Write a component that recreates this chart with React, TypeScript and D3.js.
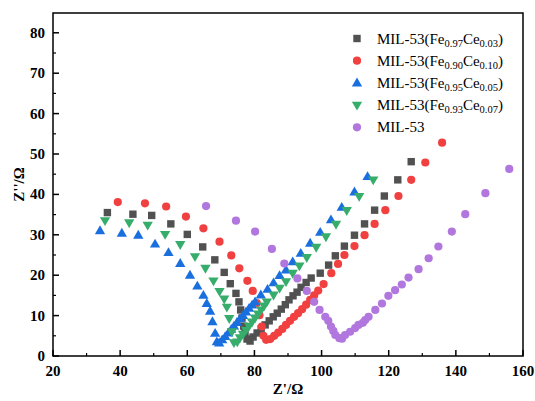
import React from "react";
import * as d3 from "d3";

// Nyquist data, Z' (Ω) and Z'' (Ω)
const fe97x = [36.2, 43.8, 49.4, 55.1, 60.0, 64.6, 68.2, 71.0, 72.8, 74.5, 75.4, 75.9, 76.3, 76.8, 77.2, 77.8, 78.7, 79.6, 80.8, 82.0, 83.2, 84.4, 85.6, 86.8, 88.0, 89.2, 90.3, 91.5, 92.7, 93.9, 95.4, 96.9, 99.6, 102.1, 104.1, 106.8, 109.8, 112.8, 115.8, 118.7, 122.7, 126.7];
const fe97y = [35.5, 35.1, 34.8, 32.7, 30.1, 27.0, 23.8, 20.7, 17.9, 15.5, 13.4, 11.4, 9.4, 7.4, 5.7, 4.2, 3.7, 4.7, 5.7, 6.7, 7.7, 8.7, 9.7, 10.6, 11.6, 12.7, 13.9, 14.9, 15.8, 17.0, 18.2, 19.3, 20.5, 22.5, 24.8, 27.2, 29.9, 32.7, 36.1, 39.6, 43.6, 48.1];

const fe90x = [39.3, 47.4, 53.7, 59.6, 64.8, 69.6, 73.1, 75.5, 77.9, 79.5, 80.7, 81.5, 82.2, 82.7, 83.5, 84.7, 85.9, 87.1, 88.3, 89.4, 90.6, 91.8, 93.0, 94.2, 95.4, 96.6, 97.8, 99.0, 100.6, 102.9, 104.9, 106.8, 109.8, 112.8, 115.8, 119.0, 122.9, 126.7, 130.9, 135.9];
const fe90y = [38.1, 37.8, 37.0, 34.5, 31.6, 28.3, 24.9, 21.7, 18.6, 16.1, 13.1, 10.1, 7.3, 5.0, 4.0, 4.2, 5.0, 5.8, 6.7, 7.7, 8.7, 9.7, 10.6, 11.6, 12.7, 13.9, 15.0, 16.2, 17.8, 20.5, 22.8, 25.0, 27.2, 29.9, 32.7, 36.1, 39.6, 43.6, 47.9, 52.8];

const fe95x = [34.0, 40.5, 45.4, 50.4, 54.4, 57.9, 60.8, 63.0, 64.8, 65.8, 66.8, 67.5, 68.3, 68.8, 69.5, 70.4, 71.3, 72.2, 73.1, 73.9, 74.8, 75.7, 76.6, 77.5, 78.4, 79.3, 80.2, 81.9, 83.9, 85.7, 87.5, 89.4, 91.4, 93.8, 96.6, 99.6, 102.8, 106.0, 109.8, 113.7];
const fe95y = [31.0, 30.4, 29.9, 27.7, 25.6, 22.9, 20.0, 17.3, 15.0, 13.0, 11.1, 8.5, 5.6, 3.5, 3.2, 4.0, 4.8, 5.7, 6.6, 7.4, 8.3, 9.2, 10.0, 10.9, 11.8, 12.6, 13.4, 15.1, 16.5, 18.1, 19.9, 21.3, 23.3, 25.4, 27.9, 30.6, 33.7, 36.8, 40.6, 44.4];

const fe93x = [35.5, 42.7, 48.2, 53.4, 57.9, 62.3, 65.4, 67.8, 69.6, 71.0, 71.8, 72.5, 73.3, 73.9, 74.9, 75.7, 76.6, 77.5, 78.4, 79.3, 80.2, 81.1, 82.0, 82.9, 83.7, 85.7, 87.5, 89.4, 91.4, 93.4, 95.6, 98.4, 101.3, 104.3, 107.5, 111.2, 115.4];
const fe93y = [33.5, 33.0, 32.4, 30.1, 27.6, 24.6, 21.7, 18.6, 16.0, 14.1, 12.1, 9.3, 6.0, 3.3, 3.5, 4.5, 5.4, 6.4, 7.4, 8.4, 9.4, 10.4, 11.4, 12.4, 13.4, 15.1, 16.8, 18.4, 20.5, 22.3, 24.4, 26.9, 29.5, 32.6, 36.0, 39.5, 43.6];

const milx = [65.6, 74.5, 80.2, 85.2, 88.9, 92.8, 95.6, 97.8, 99.4, 101.1, 102.0, 102.8, 103.5, 104.1, 105.3, 106.1, 107.0, 108.5, 110.0, 111.0, 112.3, 113.0, 114.0, 116.0, 118.0, 119.9, 121.9, 123.9, 125.9, 128.9, 131.9, 134.8, 138.8, 142.8, 148.8, 155.9];
const mily = [37.1, 33.5, 30.8, 26.5, 22.9, 19.2, 16.1, 13.4, 11.4, 9.7, 8.7, 7.3, 6.2, 5.2, 4.4, 4.3, 5.2, 6.0, 6.9, 7.7, 8.2, 8.9, 9.7, 11.4, 13.0, 14.9, 16.3, 17.7, 19.4, 21.5, 24.2, 27.1, 30.8, 35.1, 40.3, 46.3];

const xTicks = [20, 40, 60, 80, 100, 120, 140, 160];
const yTicks = [0, 10, 20, 30, 40, 50, 60, 70, 80];

const series = [
  { name: ["0.97", "0.03"], xs: fe97x, ys: fe97y, color: "#515151", shape: "square" },
  { name: ["0.90", "0.10"], xs: fe90x, ys: fe90y, color: "#F14040", shape: "circle" },
  { name: ["0.95", "0.05"], xs: fe95x, ys: fe95y, color: "#1A6FDF", shape: "up" },
  { name: ["0.93", "0.07"], xs: fe93x, ys: fe93y, color: "#37AD6B", shape: "down" },
  { name: null, xs: milx, ys: mily, color: "#B177DE", shape: "circle" },
];

const W = 535;
const H = 401;
const left = 53, right = 523, top = 13, bottom = 356;

const x = d3.scaleLinear().domain([20, 160]).range([left, right]);
const y = d3.scaleLinear().domain([0, 85]).range([bottom, bottom - 85 * 4.04]);

const marker = (shape: string, cx: number, cy: number, color: string, key: string | number) => {
  if (shape === "square") {
    return <rect key={key} x={cx - 3.7} y={cy - 3.7} width={7.4} height={7.4} fill={color} />;
  }
  if (shape === "circle") {
    return <circle key={key} cx={cx} cy={cy} r={4.1} fill={color} />;
  }
  const path = d3.symbol().type(d3.symbolTriangle).size(46)()!;
  const rot = shape === "down" ? 180 : 0;
  return <path key={key} d={path} transform={`translate(${cx},${cy + (shape === "down" ? -0.5 : 0.5)}) rotate(${rot})`} fill={color} />;
};

export default function App() {
  const font = "Liberation Serif";
  const xMinor = d3.range(30, 160, 20);
  const yMinor = d3.range(5, 85, 10);
  return (
    <svg width={W} height={H} style={{ position: "absolute", left: 0, top: 0, background: "#fff", fontFamily: font }}>
      <rect x={0} y={0} width={W} height={H} fill="#fff" />
      {/* data */}
      {series.map((s, si) => (
        <g key={si}>
          {s.xs.map((v, i) => marker(s.shape, x(v), y(s.ys[i]), s.color, i))}
        </g>
      ))}
      {/* frame */}
      <rect x={left} y={top} width={right - left} height={bottom - top} fill="none" stroke="#000" strokeWidth={1.5} />
      {/* x axis ticks */}
      {xTicks.map((t) => (
        <g key={t}>
          <line x1={x(t)} x2={x(t)} y1={bottom} y2={bottom - 6} stroke="#000" strokeWidth={1.5} />
          <text x={x(t)} y={bottom + 20} textAnchor="middle" fontSize={15} fontWeight="bold">{t}</text>
        </g>
      ))}
      {xMinor.map((t) => (
        <line key={t} x1={x(t)} x2={x(t)} y1={bottom} y2={bottom - 3} stroke="#000" strokeWidth={1.2} />
      ))}
      {/* y axis ticks */}
      {yTicks.map((t) => (
        <g key={t}>
          <line x1={left} x2={left + 6} y1={y(t)} y2={y(t)} stroke="#000" strokeWidth={1.5} />
          <text x={left - 8} y={y(t) + 5} textAnchor="end" fontSize={15} fontWeight="bold">{t}</text>
        </g>
      ))}
      {yMinor.map((t) => (
        <line key={t} x1={left} x2={left + 3} y1={y(t)} y2={y(t)} stroke="#000" strokeWidth={1.2} />
      ))}
      {/* axis titles */}
      <text x={(left + right) / 2} y={394} textAnchor="middle" fontSize={15} fontWeight="bold">Z'/Ω</text>
      <text transform={`translate(24,${(top + bottom) / 2}) rotate(-90)`} textAnchor="middle" fontSize={15} fontWeight="bold">Z''/Ω</text>
      {/* legend */}
      {series.map((s, i) => {
        const ly = 38.5 + i * 22.2;
        return (
          <g key={i}>
            {marker(s.shape, 357, ly, s.color, "m")}
            <text x={377} y={ly + 5} fontSize={15}>
              {s.name ? (
                <>
                  MIL-53(Fe<tspan fontSize={10.5} dy={3}>{s.name[0]}</tspan>
                  <tspan dy={-3}>Ce</tspan>
                  <tspan fontSize={10.5} dy={3}>{s.name[1]}</tspan>
                  <tspan dy={-3}>)</tspan>
                </>
              ) : (
                "MIL-53"
              )}
            </text>
          </g>
        );
      })}
    </svg>
  );
}
